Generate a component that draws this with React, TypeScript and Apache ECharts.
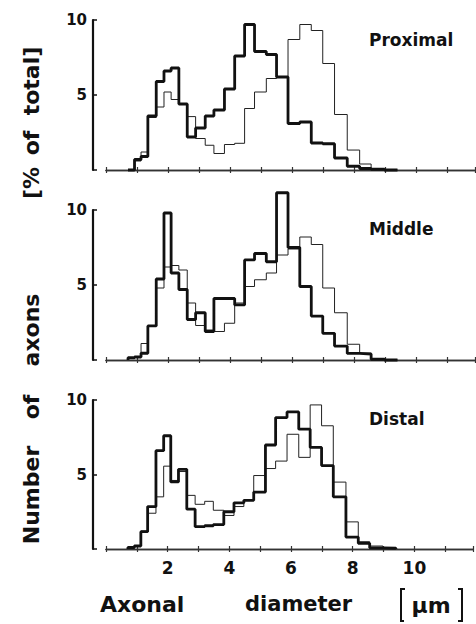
import React, { useEffect, useRef } from "react";
import * as echarts from "echarts";

// Bin edges (µm) shared by all histograms
const EDGES = [0.71, 0.92, 1.13, 1.35, 1.62, 1.87, 2.1, 2.35, 2.62, 2.89, 3.2, 3.48, 3.82, 4.15, 4.47, 4.79, 5.17, 5.5, 5.87, 6.25, 6.62, 6.99, 7.37, 7.78, 8.18, 8.55, 8.98, 9.4];

const PROX_THICK = [0, 0.7, 0.9, 3.6, 5.9, 6.6, 6.8, 4.4, 2.2, 2.8, 3.6, 4.0, 5.4, 7.6, 9.7, 7.9, 7.7, 6.2, 3.1, 3.2, 1.8, 1.75, 0.8, 0.25, 0.1, 0.05, 0];
const PROX_THIN = [0, 0.6, 1.2, 3.5, 4.2, 5.2, 4.7, 4.4, 3.56, 2.1, 1.65, 1.1, 1.7, 1.78, 4.1, 5.2, 6.1, 6.2, 8.7, 9.7, 9.3, 7.1, 3.7, 1.33, 0.4, 0.05, 0];

const MID_THICK = [0.15, 0.2, 0.45, 2.27, 5.4, 9.8, 5.8, 4.7, 2.7, 3.15, 1.9, 4.1, 4.1, 3.67, 6.67, 7.1, 6.55, 11.15, 7.5, 4.9, 2.93, 1.78, 0.93, 0.44, 0.4, 0.05, 0];
const MID_THIN = [0.1, 0.2, 1.1, 2.27, 4.8, 6.2, 6.3, 6.0, 3.8, 2.3, 2.0, 1.9, 2.45, 3.8, 4.9, 5.35, 5.8, 7.0, 7.4, 8.2, 7.7, 4.8, 3.15, 1.05, 0.45, 0.1, 0];

const DIST_THICK = [0.1, 0.2, 1.16, 2.85, 6.6, 7.6, 4.5, 5.35, 2.67, 1.5, 1.56, 1.64, 2.5, 3.1, 3.27, 3.82, 6.98, 8.82, 9.2, 8.04, 6.82, 5.6, 3.5, 0.8, 0.38, 0.08, 0.05];
const DIST_THIN = [0.05, 0.2, 1.2, 2.4, 3.5, 5.56, 4.6, 5.2, 3.6, 3.0, 3.2, 2.6, 2.25, 2.85, 3.27, 4.93, 5.4, 5.9, 7.7, 6.15, 9.67, 8.27, 4.49, 1.82, 0.49, 0.2, 0.1];

const PANEL_NAMES = ["Proximal", "Middle", "Distal"];
const X_TICK_LABELS = [2, 4, 6, 8, 10];
const Y_TICKS = [5, 10];

const FONT = '"DejaVu Sans", "Liberation Sans", sans-serif';
const INK = "#111";

function stepData(values: number[]) {
  const pts: number[][] = [[EDGES[0], 0]];
  values.forEach((v, i) => pts.push([EDGES[i], v]));
  pts.push([EDGES[EDGES.length - 1], 0]);
  return pts;
}

export default function App() {
  const ref = useRef<HTMLDivElement>(null);
  useEffect(() => {
    if (!ref.current) return;
    const chart = echarts.init(ref.current, null, { renderer: "svg" });
    const gridTops = [20, 210, 400];
    const gridHeights = [150, 150, 149];
    const panels = [
      [PROX_THICK, PROX_THIN],
      [MID_THICK, MID_THIN],
      [DIST_THICK, DIST_THIN],
    ];
    const grid = gridTops.map((t, i) => ({ left: 106, width: 369, top: t, height: gridHeights[i] }));
    const xAxis: any[] = [];
    gridTops.forEach((_, g) => {
      xAxis.push({
        type: "value",
        gridIndex: g,
        position: "bottom",
        min: 0,
        max: 11.9,
        interval: 1,
        axisLine: { show: true, onZero: false, lineStyle: { color: "#333", width: 1.3 } },
        axisTick: { show: true, inside: false, length: 3, lineStyle: { color: "#333", width: 1.2 } },
        splitLine: { show: false },
        axisLabel: {
          show: g === 2,
          margin: 10,
          fontFamily: FONT,
          fontWeight: "bold",
          fontSize: 17,
          color: INK,
          formatter: (v: number) => (X_TICK_LABELS.includes(Math.round(v)) && Math.abs(v - Math.round(v)) < 1e-6 ? String(Math.round(v)) : ""),
        },
      });
    });
    // second set of x axes: same scale, inward ticks so each tick crosses the baseline
    gridTops.forEach((_, g) => {
      xAxis.push({
        type: "value",
        gridIndex: g,
        position: "bottom",
        offset: 0,
        min: 0,
        max: 11.9,
        interval: 1,
        axisLine: { show: true, onZero: false, lineStyle: { color: "#333", width: 1.3 } },
        axisTick: { show: true, inside: true, length: 3, lineStyle: { color: "#333", width: 1.2 } },
        splitLine: { show: false },
        axisLabel: { show: false },
      });
    });
    const yAxis = gridTops.map((_, g) => ({
      type: "value",
      gridIndex: g,
      min: 0,
      max: 10,
      interval: 5,
      offset: 13,
      axisLine: { show: true, onZero: false, lineStyle: { color: INK, width: 2.2 } },
      axisTick: { show: true, inside: true, length: 4, lineStyle: { color: INK, width: 1.5 } },
      splitLine: { show: false },
      axisLabel: {
        margin: 6,
        fontFamily: FONT,
        fontWeight: "bold",
        fontSize: 15,
        color: INK,
        formatter: (v: number) => (Y_TICKS.includes(v) ? String(v) : ""),
      },
    }));
    const series: any[] = [];
    panels.forEach(([thick, thin], g) => {
      series.push({
        type: "line",
        step: "end",
        xAxisIndex: g,
        yAxisIndex: g,
        data: stepData(thin),
        showSymbol: false,
        clip: false,
        lineStyle: { color: "#222", width: 1 },
        z: 2,
      });
      series.push({
        type: "line",
        step: "end",
        xAxisIndex: g,
        yAxisIndex: g,
        data: stepData(thick),
        showSymbol: false,
        clip: false,
        lineStyle: { color: INK, width: 2.8 },
        z: 3,
      });
    });
    const labelYs = [40, 229, 419];
    const textStyle = (s: string, size: number) => ({
      text: s,
      fontFamily: FONT,
      fontWeight: "bold",
      fontSize: size,
      fill: INK,
    });
    const graphic: any[] = PANEL_NAMES.map((n, i) => ({
      type: "text",
      x: 369,
      y: labelYs[i],
      style: { ...textStyle(n, 17), textAlign: "left", textVerticalAlign: "middle" },
    }));
    graphic.push(
      { type: "text", x: 100, y: 604, style: { ...textStyle("Axonal", 22), textAlign: "left", textVerticalAlign: "middle" } },
      { type: "text", x: 245, y: 604, style: { ...textStyle("diameter", 21), textAlign: "left", textVerticalAlign: "middle" } },
      { type: "text", x: 431, y: 605, style: { ...textStyle("µm", 22), textAlign: "center", textVerticalAlign: "middle" } },
      {
        type: "polyline",
        shape: { points: [[405, 589], [401, 589], [401, 621], [404, 621]] },
        style: { stroke: INK, lineWidth: 2, fill: null },
      },
      {
        type: "polyline",
        shape: { points: [[458, 589], [462, 589], [462, 621], [458, 621]] },
        style: { stroke: INK, lineWidth: 2, fill: null },
      }
    );
    const yWords: [string, number][] = [
      ["Number", 495],
      ["of", 407],
      ["axons", 330],
      ["[%", 183],
      ["of", 143],
      ["total]", 81],
    ];
    yWords.forEach(([w, cy]) => {
      graphic.push({
        type: "text",
        x: 31,
        y: cy,
        rotation: Math.PI / 2,
        style: { ...textStyle(w, 22), textAlign: "center", textVerticalAlign: "middle" },
      });
    });
    chart.setOption({
      animation: false,
      backgroundColor: "#fff",
      grid,
      xAxis,
      yAxis,
      series,
      graphic,
    });
    return () => chart.dispose();
  }, []);
  return <div ref={ref} style={{ position: "fixed", left: 0, top: 0, width: 476, height: 624 }} />;
}
